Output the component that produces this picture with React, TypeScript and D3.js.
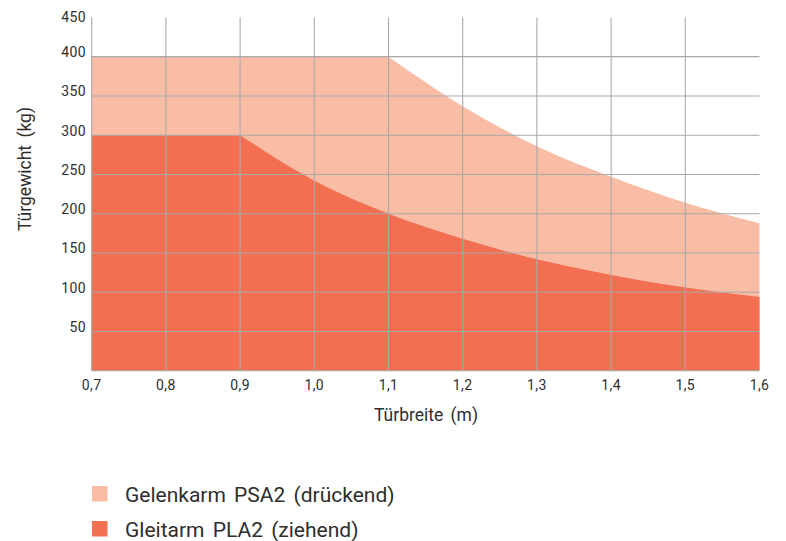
import * as d3 from "d3";

// door width (m) and max door weight (kg) per arm type
const widths = [0.7, 0.8, 0.9, 1.0, 1.1, 1.2, 1.3, 1.4, 1.5, 1.6];
const psa2 = [400, 400, 400, 400, 400, 337, 286, 247, 214, 188];
const pla2 = [300, 300, 300, 242, 200, 168, 142, 122, 106, 94];

const yTicks = [50, 100, 150, 200, 250, 300, 350, 400, 450];
const seriesLabels = ["Gelenkarm PSA2 (drückend)", "Gleitarm PLA2 (ziehend)"];
const seriesColors = ["#F9BCA5", "#F26F52"];

const W = 786;
const H = 541;
const font = "Roboto, 'Noto Sans', sans-serif";
const textColor = "#2e2e2e";
const gridColor = "#A9A9A9";

const x = d3.scaleLinear().domain([0.7, 1.6]).range([91.7, 759.5]);
const y = d3.scaleLinear().domain([0, 450]).range([370.8, 17.4]);

const deLocale = d3.formatLocale({
  decimal: ",",
  thousands: ".",
  grouping: [3],
  currency: ["", " €"],
});
const fmtX = deLocale.format(".1f");

// flat part drawn straight, falling part as a smooth curve (keeps the sharp corner)
const areaPath = (values: number[]) => {
  const first = values[0];
  let corner = 0;
  while (corner + 1 < values.length && values[corner + 1] === first) corner++;
  const pts: [number, number][] = widths.map((w, i) => [x(w), y(values[i])]);
  const flat = pts
    .slice(0, corner + 1)
    .map((p) => `L${p[0]},${p[1]}`)
    .join("");
  const curve = d3.line().curve(d3.curveMonotoneX)(pts.slice(corner)) || "";
  return (
    `M${x(widths[0])},${y(0)}` +
    flat +
    curve.replace(/^M/, "L") +
    `L${x(widths[widths.length - 1])},${y(0)}Z`
  );
};

export default function App() {
  const x0 = x(widths[0]);
  const x1 = x(widths[widths.length - 1]);
  const innerX = widths.slice(1, -1);
  const gridY = yTicks.slice(0, -1);

  return (
    <svg
      width={W}
      height={H}
      style={{ position: "absolute", left: 0, top: 0, background: "#fff" }}
      fontFamily={font}
    >
      {/* areas */}
      <path d={areaPath(psa2)} fill={seriesColors[0]} />
      <path d={areaPath(pla2)} fill={seriesColors[1]} />

      {/* grid */}
      <g stroke={gridColor} strokeWidth={1.1}>
        {gridY.map((v) => (
          <line key={"h" + v} x1={x0} x2={x1} y1={y(v)} y2={y(v)} />
        ))}
        {innerX.map((w) => (
          <line key={"v" + w} x1={x(w)} x2={x(w)} y1={y(0)} y2={y(450)} />
        ))}
        <line x1={x0} x2={x0} y1={y(0)} y2={y(450)} />
        <line x1={x0} x2={x1} y1={y(0)} y2={y(0)} />
      </g>

      {/* y ticks */}
      <g fontSize={14} fill={textColor} textAnchor="end" letterSpacing={0.4}>
        {yTicks.map((v, i) => (
          <text
            key={v}
            x={86}
            y={y(v)}
            dy={i === yTicks.length - 1 ? 4.8 : 0.3}
          >
            {v}
          </text>
        ))}
      </g>

      {/* x ticks */}
      <g fontSize={14} fill={textColor} textAnchor="middle" letterSpacing={0.4}>
        {widths.map((w) => (
          <text key={w} x={x(w)} y={y(0) + 19}>
            {fmtX(w)}
          </text>
        ))}
      </g>

      {/* axis titles */}
      <text
        x={426}
        y={421}
        fontSize={17.5}
        fill={textColor}
        textAnchor="middle"
        wordSpacing={3}
      >
        Türbreite (m)
      </text>
      <text
        transform="translate(31,169) rotate(-90)"
        fontSize={17.5}
        fill={textColor}
        textAnchor="middle"
        wordSpacing={3}
      >
        Türgewicht (kg)
      </text>

      {/* legend */}
      {seriesLabels.map((label, i) => (
        <g key={label} transform={`translate(92,${486 + i * 35})`}>
          <rect width={15.5} height={15.5} fill={seriesColors[i]} />
          <text x={33} y={15.5} fontSize={21} fill={textColor} wordSpacing={3}>
            {label}
          </text>
        </g>
      ))}
    </svg>
  );
}
